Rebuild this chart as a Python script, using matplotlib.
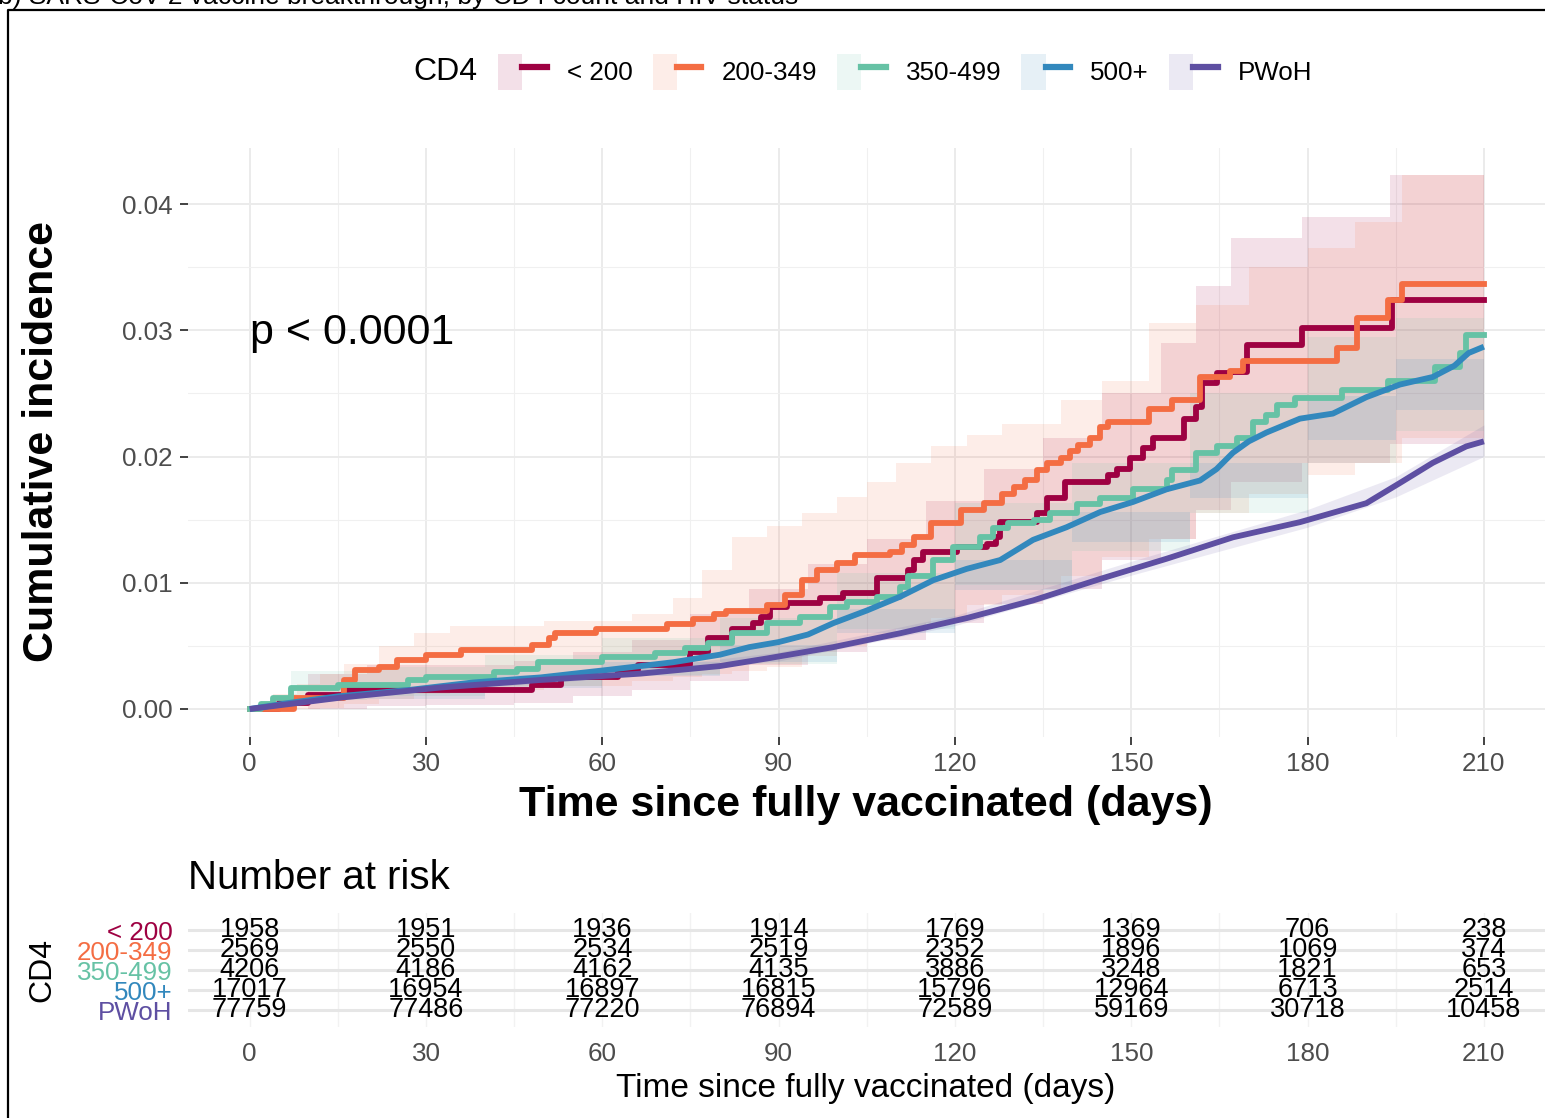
import numpy as np
import matplotlib
matplotlib.use('Agg')
import matplotlib.pyplot as plt
from matplotlib.lines import Line2D
from matplotlib.patches import Patch
from matplotlib.legend_handler import HandlerTuple

plt.rcParams['font.family'] = ['Liberation Sans', 'DejaVu Sans']

#####################################################################################################
groups = ['< 200', '200-349', '350-499', '500+', 'PWoH']
colors = ['#9E0142', '#F46D43', '#66C2A5', '#3288BD', '#5E4FA2']

# cumulative incidence curves
t_lt200 = [0, 5, 10, 16, 48, 53, 62.6, 66, 75, 78, 82, 85.7, 87, 88.6, 91.5, 97, 101, 106.8, 112, 113,
           114.6, 120.4, 125.5, 127, 127.7, 134, 135.7, 138.7, 146, 147.6, 149.8, 152, 153.7, 159, 161,
           162, 164.6, 167, 169.7, 179, 194.3, 210]
v_lt200 = [0, 0.0005, 0.0011, 0.0015, 0.0019, 0.0025, 0.0031, 0.0035, 0.0045, 0.0056, 0.0063, 0.0068,
           0.0073, 0.0081, 0.0084, 0.0088, 0.0092, 0.0104, 0.011, 0.0118, 0.0124, 0.0128, 0.0131, 0.0136,
           0.0148, 0.0155, 0.0167, 0.018, 0.0185, 0.019, 0.0199, 0.0207, 0.0215, 0.023, 0.0239, 0.0258,
           0.0266, 0.0267, 0.0288, 0.0302, 0.0324, 0.0324]

t_200 = [0, 7.5, 16, 18, 22, 25, 30, 36, 48, 51, 52, 59, 71, 75.5, 79, 81, 88, 91, 94, 96.5, 100, 103,
         109, 111, 113, 116, 121, 125, 128, 130, 132, 134, 135.7, 138, 139.6, 141, 143, 144.7, 146, 153,
         157, 161.7, 166.8, 169, 185, 188.4, 193.7, 196, 210]
v_200 = [0, 0.0009, 0.0023, 0.0031, 0.0033, 0.0039, 0.0043, 0.0047, 0.0051, 0.0056, 0.006, 0.0063,
         0.0067, 0.0071, 0.0075, 0.0078, 0.0082, 0.009, 0.0102, 0.011, 0.0116, 0.0122, 0.0124, 0.013,
         0.0136, 0.0147, 0.0158, 0.0163, 0.017, 0.0176, 0.0181, 0.0189, 0.0195, 0.0199, 0.0204, 0.0209,
         0.0215, 0.0223, 0.0227, 0.0238, 0.0245, 0.0263, 0.0268, 0.0276, 0.0286, 0.031, 0.0324, 0.0337,
         0.0337]

t_350 = [0, 2, 4, 7, 15, 27, 30, 41.5, 45.5, 49, 60, 69, 74, 78, 82, 88, 93.7, 98.8, 101.7, 106.8, 110.7,
         112, 116.3, 119.7, 124.3, 126.5, 129, 133.4, 136.2, 140.8, 144.7, 150.3, 156, 157, 161, 164.6,
         168, 170.7, 173, 174.8, 177.9, 185.8, 193.7, 201.6, 206, 207, 210]
v_350 = [0, 0.0004, 0.0009, 0.0017, 0.0019, 0.0023, 0.0025, 0.0029, 0.0032, 0.0037, 0.0041, 0.0044,
         0.0048, 0.0052, 0.006, 0.0068, 0.0073, 0.0081, 0.0085, 0.0089, 0.0097, 0.0105, 0.0118, 0.0128,
         0.0136, 0.0143, 0.0147, 0.015, 0.0155, 0.0162, 0.0167, 0.0174, 0.0181, 0.0189, 0.0203, 0.0208,
         0.0215, 0.0227, 0.0233, 0.0241, 0.0246, 0.0253, 0.026, 0.0271, 0.0282, 0.0296, 0.0296]

t_500 = [0, 7, 15, 27, 38, 49.5, 61, 72, 80, 85, 90, 95, 99.3, 105, 110.7, 116.3, 122, 127.7, 133.3, 139,
         144.7, 150.3, 156, 161.7, 164.5, 167.3, 170, 173, 178.7, 184.3, 190, 195.7, 201.3, 205, 207.4, 210]
v_500 = [0, 0.0005, 0.001, 0.0015, 0.0021, 0.0025, 0.0031, 0.0037, 0.0043, 0.0049, 0.0053, 0.0059,
         0.0068, 0.0078, 0.0089, 0.0102, 0.0111, 0.0118, 0.0134, 0.0144, 0.0156, 0.0164, 0.0174, 0.0181,
         0.019, 0.0203, 0.0212, 0.0219, 0.023, 0.0234, 0.0247, 0.0257, 0.0263, 0.0272, 0.0282, 0.0287]

t_pwoh = [0, 15.5, 32.5, 49.5, 66.5, 80, 88, 99.3, 110.7, 122, 133.3, 144.7, 156, 167.3, 178.7, 190,
          195.7, 201.3, 207, 210]
v_pwoh = [0, 0.0009, 0.0017, 0.0023, 0.0028, 0.0034, 0.004, 0.0049, 0.006, 0.0072, 0.0086, 0.0103,
          0.0119, 0.0136, 0.0148, 0.0163, 0.0179, 0.0195, 0.0208, 0.0212]

# confidence bands
bt_lt200 = [0, 10, 20, 30, 45, 55, 65, 75, 85, 95, 105, 115, 125, 135, 145, 155, 161, 167, 179, 194, 210]
up_lt200 = [0, 0.0028, 0.0035, 0.0035, 0.0038, 0.0045, 0.0055, 0.0075, 0.0095, 0.0115, 0.0135, 0.0165,
            0.019, 0.0215, 0.025, 0.029, 0.0335, 0.0373, 0.039, 0.0423, 0.0423]
lo_lt200 = [0, 0, 0.0002, 0.0003, 0.0005, 0.001, 0.0015, 0.0022, 0.0035, 0.0045, 0.0055, 0.0068, 0.0083,
            0.0095, 0.0118, 0.0135, 0.0158, 0.018, 0.0195, 0.021, 0.021]

bt_200 = [0, 4, 8, 12, 16, 22, 28, 34, 50, 65, 72, 77, 82, 88, 94, 100, 105, 110, 116, 122, 128, 138,
          145, 153, 161, 170, 180, 188, 196, 210]
up_200 = [0, 0.0012, 0.002, 0.0028, 0.0036, 0.005, 0.006, 0.0066, 0.007, 0.0075, 0.0088, 0.011, 0.0136,
          0.0145, 0.0155, 0.0168, 0.018, 0.0195, 0.0208, 0.0217, 0.0226, 0.0245, 0.026, 0.0306, 0.032,
          0.035, 0.0365, 0.0386, 0.0423, 0.0423]
lo_200 = [0, 0, 0, 0.0001, 0.0004, 0.0008, 0.0012, 0.0015, 0.0018, 0.0022, 0.0025, 0.0028, 0.003,
          0.0033, 0.0042, 0.005, 0.0058, 0.0063, 0.0072, 0.0082, 0.009, 0.0105, 0.012, 0.0135, 0.0155,
          0.017, 0.0185, 0.0195, 0.0215, 0.0235]

bt_350 = [0, 7, 20, 40, 60, 80, 100, 120, 140, 160, 180, 195, 210]
up_350 = [0, 0.003, 0.0033, 0.0043, 0.0056, 0.0072, 0.0108, 0.0163, 0.0195, 0.025, 0.0295, 0.031, 0.036]
lo_350 = [0, 0.0007, 0.001, 0.0018, 0.0027, 0.0036, 0.0063, 0.0098, 0.0125, 0.0155, 0.0195, 0.022, 0.0235]

bt_500 = [0, 20, 40, 60, 80, 100, 120, 140, 160, 180, 195, 210]
up_500 = [0, 0.0016, 0.0027, 0.0037, 0.0051, 0.0079, 0.0118, 0.0156, 0.0195, 0.0248, 0.0277, 0.0313]
lo_500 = [0, 0.0008, 0.0017, 0.0026, 0.0037, 0.006, 0.0094, 0.0132, 0.0167, 0.0213, 0.0237, 0.0262]

bt_pwoh = [0, 30, 60, 90, 120, 150, 180, 195, 210]
up_pwoh = [0, 0.0018, 0.0029, 0.0045, 0.0074, 0.0117, 0.0158, 0.0184, 0.0225]
lo_pwoh = [0, 0.0014, 0.0024, 0.0038, 0.0066, 0.0106, 0.0144, 0.0168, 0.02]

# number at risk
risk_times = [0, 30, 60, 90, 120, 150, 180, 210]
risk_lt200 = [1958, 1951, 1936, 1914, 1769, 1369, 706, 238]
risk_200 = [2569, 2550, 2534, 2519, 2352, 1896, 1069, 374]
risk_350 = [4206, 4186, 4162, 4135, 3886, 3248, 1821, 653]
risk_500 = [17017, 16954, 16897, 16815, 15796, 12964, 6713, 2514]
risk_pwoh = [77759, 77486, 77220, 76894, 72589, 59169, 30718, 10458]

#####################################################################################################
W, H = 1545, 1118
def fx(px):
    return px / W
def fy(py):
    return 1 - py / H

fig = plt.figure(figsize=(W / 100, H / 100), dpi=100)

ax = fig.add_axes([fx(188), fy(737), (1545.6 - 188) / W, (737 - 148) / H])
curves = [(t_lt200, v_lt200, 'steps'), (t_200, v_200, 'steps'), (t_350, v_350, 'steps'),
          (t_500, v_500, 'line'), (t_pwoh, v_pwoh, 'line')]
bands = [(bt_lt200, lo_lt200, up_lt200, 'post'), (bt_200, lo_200, up_200, 'post'),
         (bt_350, lo_350, up_350, 'post'), (bt_500, lo_500, up_500, 'post'),
         (bt_pwoh, lo_pwoh, up_pwoh, None)]

for (bt, lo, up, st), c in zip(bands, colors):
    ax.fill_between(bt, lo, up, step=st, color=c, alpha=0.12, lw=0, zorder=1)
for (t, v, kind), c in zip(curves, colors):
    if kind == 'steps':
        ax.step(t, v, where='post', color=c, lw=4.2, zorder=3)
    else:
        ax.plot(t, v, color=c, lw=4.2, zorder=3, solid_capstyle='butt')

ax.set_xlim(-10.5, 220.5)
ax.set_ylim(-0.00222, 0.04444)
ax.set_xticks(range(0, 211, 30))
ax.set_xticks(range(15, 211, 30), minor=True)
ax.set_yticks([0, 0.01, 0.02, 0.03, 0.04])
ax.set_yticks([0.005, 0.015, 0.025, 0.035], minor=True)
ax.set_yticklabels(['0.00', '0.01', '0.02', '0.03', '0.04'])
ax.grid(which='major', color='#EBEBEB', lw=1.4, zorder=0)
ax.grid(which='minor', color='#F0F0F0', lw=0.8, zorder=0)
ax.set_axisbelow(True)
for s in ax.spines.values():
    s.set_visible(False)
ax.tick_params(which='major', labelsize=18.7, labelcolor='#4D4D4D', color='#333333',
               length=6, width=1.3, pad=5)
ax.tick_params(which='minor', length=0)
ax.text(0, 0.0298, 'p < 0.0001', fontsize=31, va='center', ha='left')

fig.text(fx(42), fy(442), 'Cumulative incidence', rotation=90, fontsize=31, fontweight='bold',
         ha='center', va='center')
fig.text(fx(866), fy(805), 'Time since fully vaccinated (days)', fontsize=31, fontweight='bold',
         ha='center', va='center')

# legend
handles = [(Patch(facecolor=c, alpha=0.12, lw=0), Line2D([], [], color=c, lw=4.5)) for c in colors]
fig.legend(handles, groups, loc='center left', bbox_to_anchor=(fx(498), fy(72)), ncol=5,
           frameon=False, fontsize=18.7, handlelength=1.88, handleheight=1.77, handletextpad=0.77,
           columnspacing=0.77, borderpad=0, borderaxespad=0,
           handler_map={tuple: HandlerTuple(ndivide=None, pad=0)})
fig.text(fx(413), fy(72), 'CD4', fontsize=23, ha='left', va='center')

# risk table
rt = fig.add_axes([fx(188), fy(1027), (1545.6 - 188) / W, (1027 - 913) / H])
risk_rows = [risk_lt200, risk_200, risk_350, risk_500, risk_pwoh]
for i, row in enumerate(risk_rows):
    for t, n in zip(risk_times, row):
        rt.text(t, i, str(n), fontsize=19.5, ha='center', va='center', zorder=3)
rt.set_xlim(-10.5, 220.5)
rt.set_ylim(4.85, -0.85)
rt.set_xticks(risk_times)
rt.set_xticks(range(15, 211, 30), minor=True)
rt.set_yticks(range(5))
rt.set_yticklabels(groups)
for lab, c in zip(rt.get_yticklabels(), colors):
    lab.set_color(c)
rt.grid(axis='y', color='#E6E6E6', lw=2.2, zorder=0)
rt.grid(axis='x', which='both', color='#F2F2F2', lw=1.0, zorder=0)
rt.set_axisbelow(True)
for s in rt.spines.values():
    s.set_visible(False)
rt.tick_params(axis='x', labelsize=18.7, labelcolor='#4D4D4D', length=0, pad=11)
rt.tick_params(axis='y', labelsize=18.7, length=0, pad=11)
rt.tick_params(which='minor', length=0)

fig.text(fx(188), fy(878), 'Number at risk', fontsize=29, ha='left', va='center')
fig.text(fx(42), fy(970), 'CD4', rotation=90, fontsize=23, ha='center', va='center')
fig.text(fx(866), fy(1088), 'Time since fully vaccinated (days)', fontsize=24, ha='center', va='center')

# panel title cut at the top, and the outer frame
fig.text(fx(-2), fy(4), 'b) SARS-CoV-2 vaccine breakthrough, by CD4 count and HIV status',
         fontsize=19, ha='left', va='baseline')
fig.add_artist(Line2D([fx(8), fx(8), 1.01], [-0.01, fy(10), fy(10)], transform=fig.transFigure,
                      color='black', lw=1.6))

fig.savefig('out.png', dpi=100)
